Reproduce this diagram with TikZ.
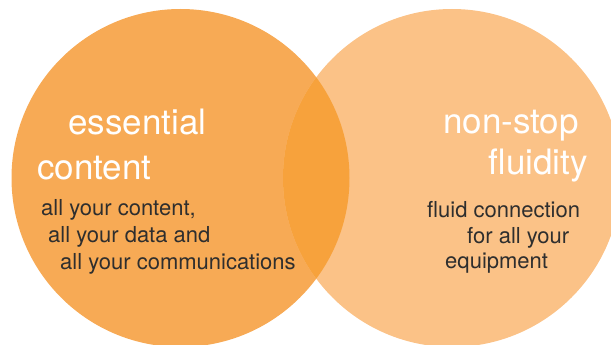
\documentclass[tikz,border=0pt]{standalone}
\usepackage{fontspec}
\setmainfont{TeX Gyre Heros}

\definecolor{leftorange}{HTML}{F7AA55}
\definecolor{rightorange}{HTML}{FBC287}
\definecolor{lensorange}{HTML}{F7A23C}
\definecolor{textgray}{HTML}{2E2E2E}

\tikzset{
  headline/.style={text=white, inner sep=0pt, font=\fontsize{35}{40}\selectfont},
  bodytext/.style={text=textgray, inner sep=0pt, font=\fontsize{22}{26}\selectfont}
}

\begin{document}
\begin{tikzpicture}[x=1pt, y=-1pt]
\clip (0,0) rectangle (611,345);

% Circles
\fill[leftorange] (180.5,178) circle (169pt);
\fill[rightorange] (452,178) circle (169pt);

% Overlap
\begin{scope}
\clip (180.5,178) circle (169pt);
\fill[lensorange] (452,178) circle (169pt);
\end{scope}

% Left headline
\node[headline, anchor=base west] (essential) at (68,135) {essential};
\node[headline, anchor=base west] (content) at (37,179) {content};

% Left text
\node[bodytext, anchor=base west] (allcontent) at (41,215) {all your content,};
\node[bodytext, anchor=base west] (alldata) at (48,242) {all your data and};
\node[bodytext, anchor=base west] (allcomm) at (60,269) {all your communications};

% Right headline
\node[headline, anchor=base east] (nonstop) at (579,133) {non-stop};
\node[headline, anchor=base east] (fluidity) at (588,174) {fluidity};

% Right text
\node[bodytext, anchor=base west] (fluidconn) at (427,217) {fluid connection};
\node[bodytext, anchor=base west] (forall) at (467,243) {for all your};
\node[bodytext, anchor=base west] (equipment) at (445,268) {equipment};
\end{tikzpicture}
\end{document}
